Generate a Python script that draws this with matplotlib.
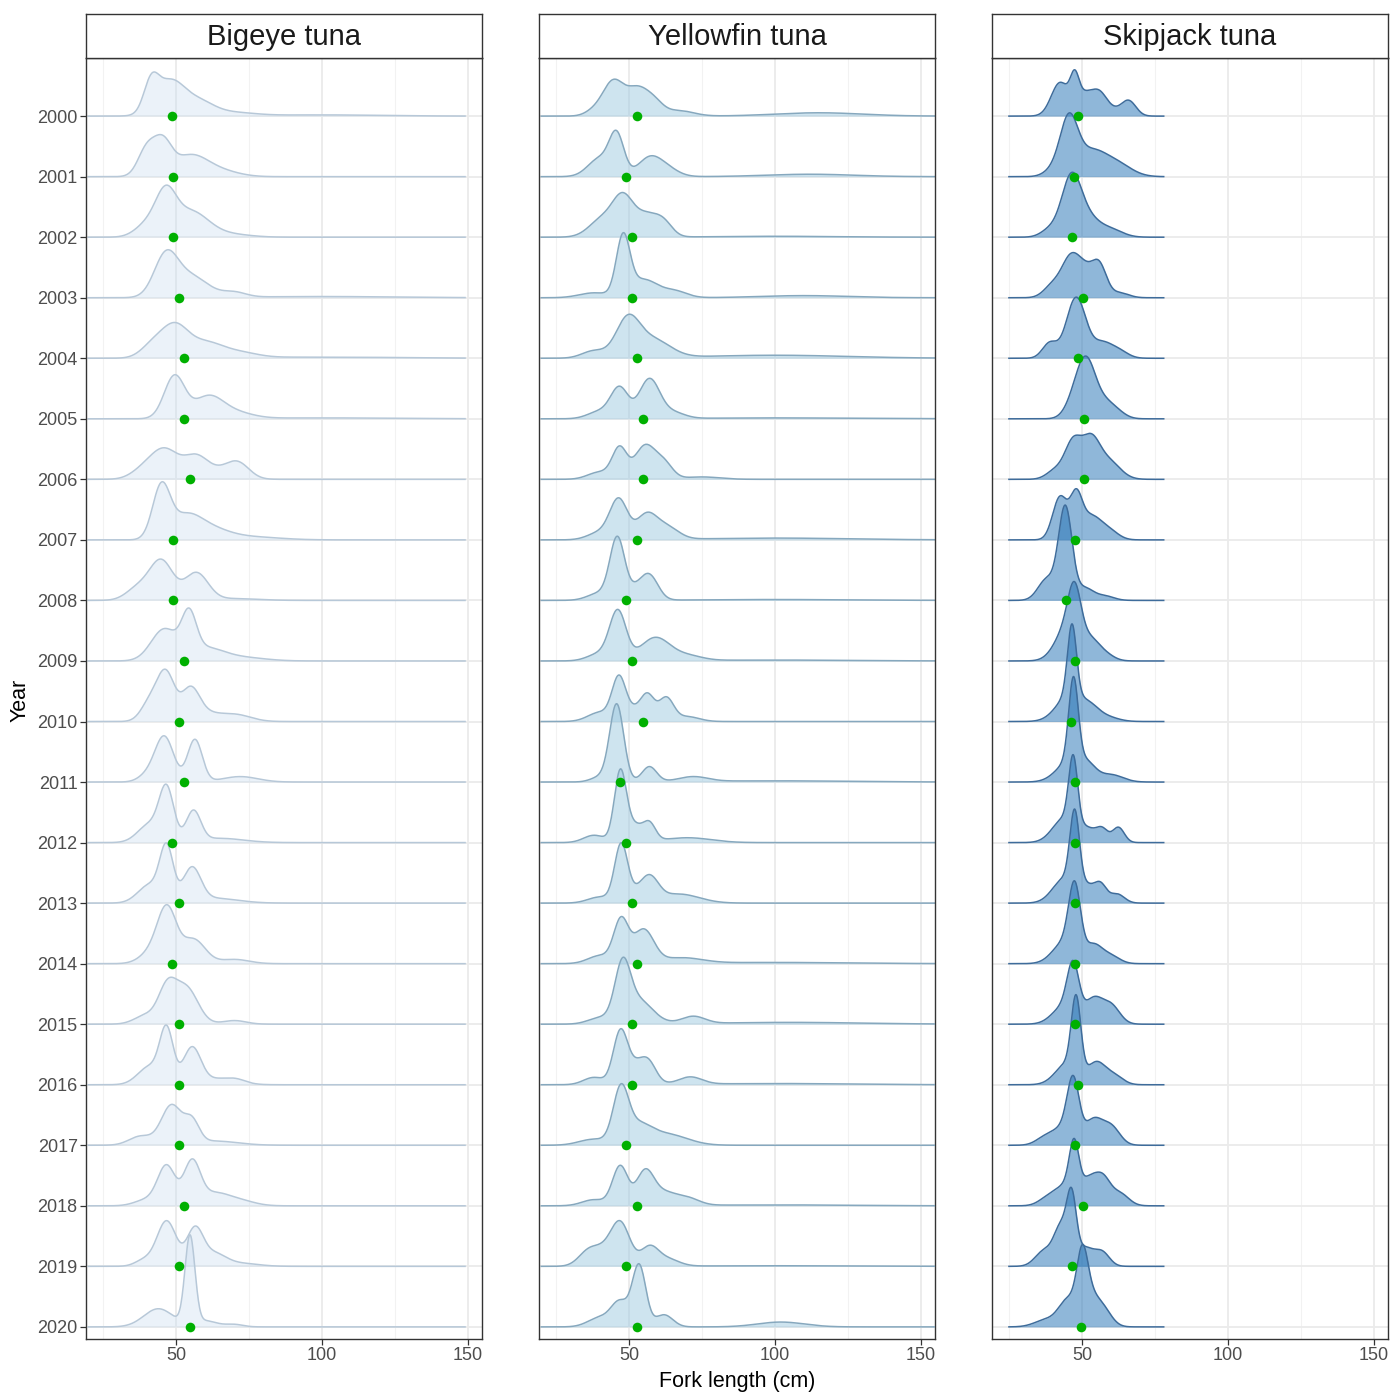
import numpy as np
import matplotlib.pyplot as plt

# ---- data ------------------------------------------------------------------
years = list(range(2000, 2021))
species = ['Bigeye tuna', 'Yellowfin tuna', 'Skipjack tuna']

# observed length range of each species (cm)
length_lo = [20, 20, 25]
length_hi = [149, 165, 78]

# each ridge = sum of gaussian bumps: (peak length cm, spread cm, height in ridge units)
bigeye_bumps = [
    [(41.5, 2.5, 0.45), (48, 5, 0.57), (58, 5, 0.2), (68, 8, 0.06), (100, 20, 0.02)],
    [(40, 3, 0.45), (45.5, 3, 0.5), (55, 6, 0.35), (66, 6, 0.08)],
    [(46.5, 3.5, 0.65), (55, 6, 0.42), (40, 4, 0.2), (68, 7, 0.05)],
    [(46.5, 4, 0.65), (55, 6, 0.35), (70, 4, 0.08), (100, 25, 0.02)],
    [(49.5, 4.5, 0.5), (42, 4, 0.2), (60, 6, 0.25), (72, 6, 0.08), (100, 25, 0.02)],
    [(49.5, 3.5, 0.7), (61, 5, 0.35), (70, 6, 0.1), (100, 25, 0.015)],
    [(46, 5, 0.5), (57, 4, 0.35), (71, 4, 0.28), (64, 4, 0.1), (38, 4, 0.1)],
    [(45, 3, 0.85), (53, 5, 0.3), (60, 7, 0.2), (75, 10, 0.05)],
    [(45, 4, 0.65), (57, 4, 0.45), (37, 4, 0.2), (70, 8, 0.03)],
    [(54.5, 2.5, 0.65), (46, 4.5, 0.52), (60, 6, 0.2), (72, 8, 0.06)],
    [(46.5, 3, 0.78), (41, 3, 0.3), (55, 3, 0.45), (59, 6, 0.15), (71, 5, 0.1)],
    [(46, 3.2, 0.75), (56.5, 2.5, 0.7), (72, 6, 0.09), (40, 3, 0.1)],
    [(46.8, 2.5, 0.85), (56, 2.5, 0.5), (41, 4, 0.3), (65, 8, 0.07)],
    [(46.8, 2.3, 0.87), (55.5, 3, 0.55), (41, 4, 0.3), (63, 8, 0.08)],
    [(47, 3.2, 0.85), (56, 4, 0.4), (42, 4, 0.2), (70, 5, 0.07)],
    [(47, 3, 0.55), (53.5, 4, 0.6), (40, 4, 0.15), (70, 4, 0.06)],
    [(46.8, 2.3, 0.87), (55.5, 3, 0.6), (41, 4, 0.3), (65, 6, 0.1), (71, 3, 0.04)],
    [(48.5, 3.5, 0.65), (55.5, 2.5, 0.35), (38, 4, 0.15), (63, 8, 0.07)],
    [(46.8, 3, 0.65), (55.5, 2.8, 0.7), (63, 5, 0.2), (72, 5, 0.08), (40, 4, 0.1)],
    [(46.8, 3.3, 0.75), (56.5, 2.8, 0.6), (63, 4, 0.2), (72, 6, 0.05), (39, 3, 0.1)],
    [(54.8, 1.7, 1.45), (44, 5, 0.3), (60, 4, 0.1), (70, 3, 0.04)],
]
bigeye_means = [48.7, 49, 49, 51.1, 52.7, 52.7, 54.9, 49, 49, 52.7, 51,
                52.7, 48.7, 51, 48.7, 51, 51, 51, 52.7, 50.9, 54.8]

yellowfin_bumps = [
    [(44.5, 3.5, 0.55), (53, 4, 0.45), (59, 3, 0.15), (67, 5, 0.09), (115, 15, 0.055), (38, 3, 0.08)],
    [(45.8, 2.5, 0.65), (40, 4, 0.3), (57, 4, 0.3), (63, 4, 0.12), (112, 15, 0.04)],
    [(48, 3.5, 0.6), (41, 4.5, 0.3), (56, 4, 0.35), (62, 3, 0.2), (100, 20, 0.015)],
    [(48, 2.3, 0.95), (55, 5, 0.3), (66, 4, 0.1), (38, 5, 0.08), (110, 15, 0.035)],
    [(49.5, 4, 0.6), (58, 6, 0.3), (38, 4, 0.12), (100, 25, 0.05)],
    [(46.8, 3, 0.5), (57, 3.5, 0.65), (40, 4, 0.12), (65, 4, 0.1), (100, 25, 0.015)],
    [(46.8, 2.5, 0.5), (55.5, 3.5, 0.55), (62, 3, 0.25), (40, 4, 0.12), (75, 6, 0.04)],
    [(46.5, 3, 0.65), (56, 3.5, 0.4), (63, 4, 0.2), (40, 4, 0.12), (100, 25, 0.03)],
    [(46, 2.5, 1.0), (57, 3, 0.4), (40, 4, 0.12), (52, 3, 0.15), (100, 25, 0.015)],
    [(46.2, 2.8, 0.8), (59, 5, 0.38), (40, 4, 0.12), (70, 5, 0.08), (100, 25, 0.015)],
    [(46.5, 2.3, 0.65), (56.5, 2.3, 0.35), (62.8, 2.5, 0.38), (52, 4, 0.2), (40, 4, 0.15), (70, 4, 0.08)],
    [(45.8, 2.4, 1.28), (57, 2.5, 0.25), (72, 5, 0.08), (40, 3, 0.08), (100, 25, 0.02)],
    [(47, 2, 1.05), (51.5, 4, 0.3), (57.2, 2, 0.22), (38, 3.5, 0.12), (70, 8, 0.08)],
    [(47.3, 2.2, 0.9), (57.2, 3, 0.35), (52, 4, 0.15), (67, 7, 0.15), (40, 4, 0.1)],
    [(47.3, 2.5, 0.7), (55, 3.5, 0.55), (40, 4, 0.13), (68, 7, 0.09), (100, 25, 0.02)],
    [(47.8, 2.6, 0.85), (53, 5, 0.4), (72, 4, 0.12), (40, 4, 0.1), (105, 25, 0.03)],
    [(47, 2.4, 0.8), (53, 4, 0.35), (57, 2.5, 0.2), (71, 4, 0.12), (38, 3.5, 0.12), (100, 25, 0.02)],
    [(47.2, 2.6, 0.85), (53, 4.5, 0.3), (63, 7, 0.18), (38, 5, 0.1)],
    [(47, 2.6, 0.65), (55.5, 3, 0.55), (62, 4, 0.2), (70, 4, 0.12), (38, 4, 0.1), (100, 25, 0.015)],
    [(47, 3.3, 0.72), (36.5, 3.5, 0.27), (41.5, 3, 0.15), (57, 3, 0.3), (63, 4, 0.12), (100, 25, 0.01)],
    [(53.5, 2.3, 1.0), (47, 3, 0.4), (40, 4, 0.15), (62, 3, 0.2), (102, 8, 0.08)],
]
yellowfin_means = [52.9, 48.9, 50.9, 50.9, 52.6, 54.9, 54.9, 52.6, 48.9, 50.9, 54.9,
                   46.9, 48.9, 50.9, 52.6, 50.9, 50.9, 48.9, 52.9, 48.9, 52.9]

skipjack_bumps = [
    [(47.5, 1.5, 0.45), (42.5, 3, 0.55), (51, 3, 0.35), (56, 2.5, 0.3), (66, 2.5, 0.25), (60, 3, 0.1)],
    [(45.5, 3, 0.9), (53, 5, 0.4), (62, 5, 0.2), (40, 3, 0.1)],
    [(46.3, 3.3, 0.95), (52, 4, 0.3), (60, 4, 0.12), (39, 3, 0.12)],
    [(46, 3, 0.6), (51, 3, 0.4), (56, 2.5, 0.5), (40, 3, 0.2), (63, 3, 0.08)],
    [(48, 3.3, 1.0), (39, 2.5, 0.25), (57, 3.5, 0.25), (63, 3, 0.1)],
    [(51.5, 3.3, 0.95), (47, 3, 0.2), (58, 3, 0.2), (62, 3, 0.1)],
    [(47, 2.8, 0.6), (53, 3, 0.6), (59, 4, 0.3), (41, 3, 0.15)],
    [(42.5, 2.5, 0.7), (48, 2, 0.6), (53, 4, 0.4), (60, 3, 0.1)],
    [(44.3, 2.3, 1.52), (38, 3, 0.35), (51, 3, 0.2), (58, 3, 0.07)],
    [(47.5, 2.2, 0.8), (45, 4, 0.55), (53, 3, 0.3), (58, 3, 0.1)],
    [(46.6, 1.5, 1.15), (46, 4.5, 0.45), (53, 3, 0.15), (58, 4, 0.08)],
    [(47.1, 1.6, 1.35), (46, 4.5, 0.35), (52, 3, 0.2), (60, 4, 0.12)],
    [(47, 1.5, 1.1), (44, 4, 0.4), (52, 3, 0.2), (57, 2, 0.2), (62.5, 2, 0.25)],
    [(47.5, 1.6, 1.2), (44, 4, 0.4), (52, 3, 0.25), (56.5, 2, 0.25), (62, 2.5, 0.15)],
    [(47.5, 2, 1.1), (44, 4, 0.35), (54, 3, 0.3), (60, 3, 0.12)],
    [(47, 2, 0.8), (44, 4, 0.3), (54, 3, 0.4), (60, 3, 0.3)],
    [(48, 1.6, 1.2), (45, 4, 0.35), (55, 3, 0.35), (61, 3, 0.15)],
    [(47, 2, 0.9), (44, 4, 0.3), (54, 3, 0.4), (60, 3, 0.3), (37, 3, 0.1)],
    [(47.3, 1.6, 0.75), (45, 4, 0.35), (53, 3, 0.4), (57.5, 2.5, 0.35), (63, 3, 0.2), (38, 3, 0.1)],
    [(46.5, 1.6, 0.95), (43, 2.5, 0.65), (51, 3, 0.3), (57, 2.5, 0.22), (37, 3, 0.25)],
    [(50.1, 1.8, 0.75), (51.5, 3, 0.55), (45, 3, 0.4), (57, 3, 0.3), (38, 4, 0.12)],
]
skipjack_means = [48.5, 47.4, 46.5, 50.4, 48.6, 50.6, 50.6, 47.5, 44.5, 47.5, 46.3,
                  47.5, 47.5, 47.5, 47.5, 47.5, 48.5, 47.6, 50.4, 46.5, 49.6]

all_bumps = [bigeye_bumps, yellowfin_bumps, skipjack_bumps]
all_means = [bigeye_means, yellowfin_means, skipjack_means]

# ---- style ------------------------------------------------------------------
fill_cols = ['#C6DBEF', '#9ECAE1', '#2171B5']
fill_alpha = [0.35, 0.5, 0.5]
line_cols = ['#B7C8D8', '#86A8BE', '#3E6C9B']
dot_col = '#00B000'

plt.rcParams['font.family'] = ['Liberation Sans', 'DejaVu Sans']

fig = plt.figure(figsize=(13.92, 13.92), dpi=100)
W = H = 1392.0
panel_left = [86, 539, 992]
panel_w = 396
top, bottom, strip_top = 58, 1339, 14

for p in range(3):
    ax = fig.add_axes([panel_left[p] / W, 1 - bottom / H, panel_w / W, (bottom - top) / H])
    ax.set_xlim(19.2, 154.8)
    ax.set_ylim(-0.2, 20.96)

    # gridlines (theme_bw)
    for v in [25, 75, 125]:
        ax.axvline(v, color='#F2F2F2', lw=0.8, zorder=0)
    for v in [50, 100, 150]:
        ax.axvline(v, color='#EBEBEB', lw=1.3, zorder=0)
    for k in range(len(years)):
        ax.axhline(20 - k, color='#EBEBEB', lw=1.3, zorder=0)

    xs = np.linspace(length_lo[p], length_hi[p], 600)
    for k, yr in enumerate(years):
        y0 = 20 - k
        dens = np.zeros_like(xs)
        for mu, sd, h in all_bumps[p][k]:
            dens += h * np.exp(-0.5 * ((xs - mu) / sd) ** 2)
        z = 1 + k * 0.1
        ax.fill_between(xs, y0, y0 + dens, color=fill_cols[p], alpha=fill_alpha[p],
                        lw=0, zorder=z)
        ax.plot(xs, y0 + dens, color=line_cols[p], lw=1.1, zorder=z + 0.05)

    ax.scatter(all_means[p], [20 - k for k in range(len(years))], s=48,
               color=dot_col, zorder=20, linewidths=0)

    ax.set_xticks([50, 100, 150])
    ax.set_xticklabels(['50', '100', '150'], fontsize=13, color='#4D4D4D')
    ax.set_yticks([20 - k for k in range(len(years))])
    if p == 0:
        ax.set_yticklabels([str(y) for y in years], fontsize=13, color='#4D4D4D')
    else:
        ax.set_yticklabels([])
    ax.tick_params(axis='both', color='#333333', width=0.9, length=4, pad=2)
    if p != 0:
        ax.tick_params(axis='y', length=0)
    for s in ax.spines.values():
        s.set_color('#333333')
        s.set_linewidth(1.0)

    # facet strip
    sax = fig.add_axes([panel_left[p] / W, 1 - top / H, panel_w / W, (top - strip_top) / H])
    sax.set_xticks([])
    sax.set_yticks([])
    for s in sax.spines.values():
        s.set_color('#333333')
        s.set_linewidth(1.0)
    sax.text(0.5, 0.48, species[p], ha='center', va='center', fontsize=21,
             color='#1A1A1A', transform=sax.transAxes)

fig.text(737 / W, 1 - 1381 / H, 'Fork length (cm)', ha='center', va='center',
         fontsize=15.5, color='black')
fig.text(20 / W, 1 - 700 / H, 'Year', ha='center', va='center', rotation=90,
         fontsize=15.5, color='black')

fig.savefig('out.png', dpi=100)
